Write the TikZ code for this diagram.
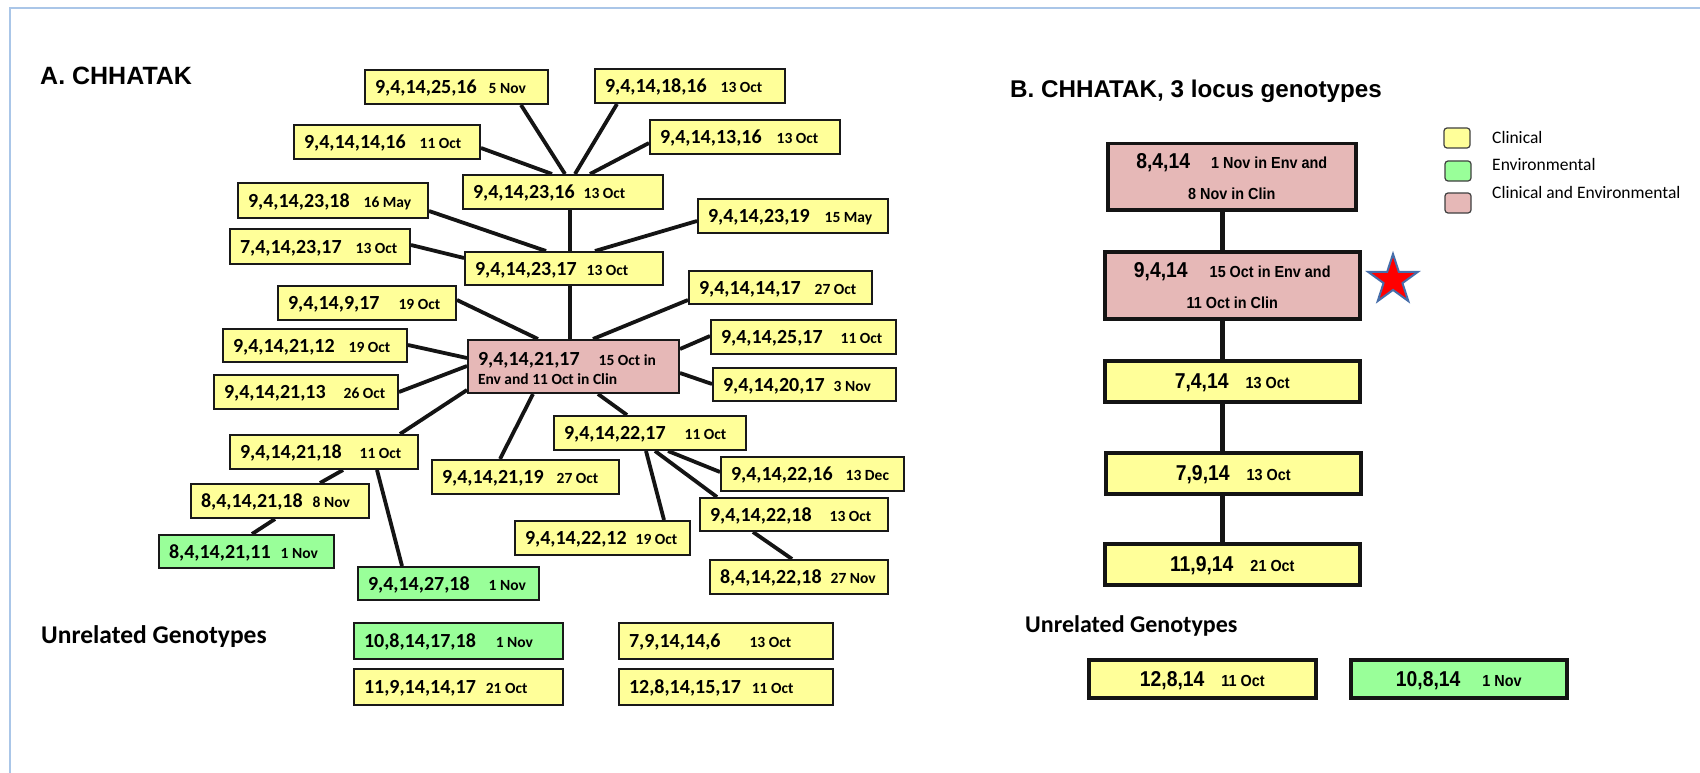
\documentclass[tikz,border=0pt]{standalone}
\usepackage{fontspec}
\setmainfont{Carlito}
\newfontfamily\carl{Carlito}
\newfontfamily\ars{Liberation Sans}
\newfontfamily\arn[FakeStretch=0.9]{Liberation Sans}
\usetikzlibrary{shapes.geometric,backgrounds}
\definecolor{cYel}{RGB}{255,255,153}
\definecolor{cGrn}{RGB}{153,255,153}
\definecolor{cPnk}{RGB}{230,184,183}
\definecolor{cBord}{RGB}{25,25,25}
\definecolor{cFrame}{RGB}{170,198,232}
\definecolor{cStar}{RGB}{70,110,170}
\newcommand{\gfont}{\fontsize{20}{24}\selectfont}
\newcommand{\dfont}{\fontsize{15.5}{19}\selectfont}
\newcommand{\bgf}{\fontsize{21.5}{31}\selectfont}
\newcommand{\bdf}{\fontsize{16}{31}\selectfont}
% A-panel genotype box: name, x1, y1, x2, y2, fill style, genotype, gap, date
\newcommand{\gbx}[9]{%
 \pgfmathsetmacro{\gbw}{#4-#2}%
 \pgfmathsetmacro{\gbh}{#5-#3}%
 \pgfmathsetmacro{\gbt}{#4-#2-20}%
 \node[gbox,#6,anchor=north west,minimum width=\gbw pt,minimum height=\gbh pt] (#1) at (#2,#3)
 {\raisebox{0pt}[\height][0pt]{\makebox[\gbt pt][l]{{\gfont #7}\hspace{#8pt}{\dfont #9}}}};%
}
% B-panel box: name, x1, y1, x2, y2, fill style, content
\newcommand{\bbx}[7]{%
 \pgfmathsetmacro{\gbw}{#4-#2}%
 \pgfmathsetmacro{\gbh}{#5-#3}%
 \node[bbox,#6,anchor=north west,minimum width=\gbw pt,minimum height=\gbh pt] (#1) at (#2,#3) {#7};%
}
\begin{document}
\begin{tikzpicture}[x=1pt,y=-1pt,
 fY/.style={fill=cYel}, fG/.style={fill=cGrn}, fP/.style={fill=cPnk},
 gbox/.style={draw=cBord, line width=2pt, rectangle, inner xsep=10pt, inner ysep=0pt, font=\carl\bfseries},
 link/.style={line width=3.8pt, draw=black!92},
 bbox/.style={draw=black!92, line width=3.5pt, rectangle, inner sep=0pt, font=\arn\bfseries\bdf, align=center},
 blink/.style={line width=5pt, draw=black!92},
 legsq/.style={draw=black!75, line width=1.2pt, rounded corners=3pt, minimum width=26pt, minimum height=20pt, inner sep=0pt},
 legtxt/.style={anchor=base west, inner sep=0pt, font=\carl\fontsize{17.5}{21}\selectfont},
 title/.style={anchor=base west, inner sep=0pt, font=\ars\bfseries},
 sub/.style={anchor=base west, inner sep=0pt, font=\carl\bfseries}]
\useasboundingbox (0,0) rectangle (1700,773);

% ---------- titles ----------
\node[title, font=\ars\bfseries\fontsize{25}{30}\selectfont] (titleA) at (40,85) {A. CHHATAK};
\node[title, font=\ars\bfseries\fontsize{24.2}{29}\selectfont] (titleB) at (1010,98) {B. CHHATAK, 3 locus genotypes};
\node[sub, font=\carl\bfseries\fontsize{25.5}{30}\selectfont] (unrelA) at (41,643) {Unrelated Genotypes};
\node[sub, font=\carl\bfseries\fontsize{24}{29}\selectfont] (unrelB) at (1025,632) {Unrelated Genotypes};

% ---------- panel A boxes ----------
\gbx{n2516}{364}{69}{547}{103}{fY}{9,4,14,25,16}{12}{5 Nov}
\gbx{n1816}{594}{68}{784}{102}{fY}{9,4,14,18,16}{14}{13 Oct}
\gbx{n1416}{293}{124}{479}{158}{fY}{9,4,14,14,16}{14}{11 Oct}
\gbx{n1316}{649}{119}{839}{153}{fY}{9,4,14,13,16}{15}{13 Oct}
\gbx{n2316}{462}{174}{662}{208}{fY}{9,4,14,23,16}{9}{13 Oct}
\gbx{n2318}{237}{182}{427}{217}{fY}{9,4,14,23,18}{14}{16 May}
\gbx{n2319}{697}{198}{887}{232}{fY}{9,4,14,23,19}{15}{15 May}
\gbx{n742317}{229}{228}{409}{263}{fY}{7,4,14,23,17}{14}{13 Oct}
\gbx{n2317}{464}{251}{662}{284}{fY}{9,4,14,23,17}{10}{13 Oct}
\gbx{n917}{277}{285}{455}{319}{fY}{9,4,14,9,17}{19}{19 Oct}
\gbx{n1417}{688}{270}{871}{303}{fY}{9,4,14,14,17}{14}{27 Oct}
\gbx{n2112}{222}{328}{406}{361}{fY}{9,4,14,21,12}{14}{19 Oct}
\gbx{n2517}{710}{319}{895}{353}{fY}{9,4,14,25,17}{18}{11 Oct}
\gbx{n2113}{213}{374}{397}{408}{fY}{9,4,14,21,13}{18}{26 Oct}
\gbx{n2017}{712}{367}{895}{400}{fY}{9,4,14,20,17}{9}{3 Nov}
\node[gbox, fP, anchor=north west, minimum width=211pt, minimum height=53pt, text width=191pt, align=left, font=\carl\bfseries\dfont] (c) at (467,339)
 {\spaceskip=0pt\xspaceskip=0pt\relax\rule{0pt}{17pt}{\gfont 9,4,14,21,17}\hspace{19pt}15 Oct in\\Env and 11 Oct in Clin};
\gbx{n2217}{553}{415}{745}{449}{fY}{9,4,14,22,17}{19}{11 Oct}
\gbx{n2118}{229}{434}{417}{468}{fY}{9,4,14,21,18}{18}{11 Oct}
\gbx{n2119}{431}{459}{618}{493}{fY}{9,4,14,21,19}{13}{27 Oct}
\gbx{n2216}{720}{456}{903}{490}{fY}{9,4,14,22,16}{13}{13 Dec}
\gbx{n842118}{190}{483}{368}{517}{fY}{8,4,14,21,18}{10}{8 Nov}
\gbx{n2218}{699}{497}{887}{530}{fY}{9,4,14,22,18}{18}{13 Oct}
\gbx{n2212}{514}{520}{689}{554}{fY}{9,4,14,22,12}{9}{19 Oct}
\gbx{n842111}{158}{534}{333}{567}{fG}{8,4,14,21,11}{10}{1 Nov}
\gbx{n842218}{709}{559}{887}{593}{fY}{8,4,14,22,18}{9}{27 Nov}
\gbx{n2718}{357}{566}{538}{599}{fG}{9,4,14,27,18}{19}{1 Nov}
% unrelated (A)
\gbx{u1}{353}{622}{562}{658}{fG}{10,8,14,17,18}{20}{1 Nov}
\gbx{u2}{618}{622}{832}{658}{fY}{7,9,14,14,6}{29}{13 Oct}
\gbx{u3}{353}{668}{562}{704}{fY}{11,9,14,14,17}{10}{21 Oct}
\gbx{u4}{618}{668}{832}{704}{fY}{12,8,14,15,17}{11}{11 Oct}

% ---------- panel B boxes ----------
\bbx{b1}{1106}{142}{1354}{208}{fP}{{\bgf 8,4,14}\hspace{21pt}1 Nov in Env and\\8 Nov in Clin}
\bbx{b2}{1103}{250}{1358}{317}{fP}{{\bgf 9,4,14}\hspace{22pt}15 Oct in Env and\\11 Oct in Clin}
\bbx{b3}{1103}{359}{1358}{400}{fY}{\raisebox{0pt}[\height][0pt]{{\bgf 7,4,14}\hspace{17pt}13 Oct}}
\bbx{b4}{1104}{451}{1359}{492}{fY}{\raisebox{0pt}[\height][0pt]{{\bgf 7,9,14}\hspace{17pt}13 Oct}}
\bbx{b5}{1103}{542}{1358}{583}{fY}{\raisebox{0pt}[\height][0pt]{{\bgf 11,9,14}\hspace{17pt}21 Oct}}
\bbx{b6}{1087}{658}{1314}{696}{fY}{\raisebox{0pt}[\height][0pt]{{\bgf 12,8,14}\hspace{17pt}11 Oct}}
\bbx{b7}{1349}{658}{1565}{696}{fG}{\raisebox{0pt}[\height][0pt]{{\bgf 10,8,14}\hspace{22pt}1 Nov}}

\node[star, star points=5, star point ratio=2.618, minimum size=52pt, fill=red, draw=cStar, line width=2pt, inner sep=0pt] (star) at (1393,280) {};

% ---------- legend ----------
\node[legsq, fill=cYel] (lg1) at (1457,138) {};
\node[legsq, fill=cGrn] (lg2) at (1458,171) {};
\node[legsq, fill=cPnk] (lg3) at (1458,203) {};
\node[legtxt] (lt1) at (1492,143) {Clinical};
\node[legtxt] (lt2) at (1492,171) {Environmental};
\node[legtxt] (lt3) at (1492,198) {Clinical and Environmental};

% ---------- frame ----------
\draw[cFrame, line width=1.5pt] (10,773) -- (10,8) -- (1700,8);

% ---------- connectors ----------
\begin{scope}[on background layer]
\fill[white] (0,0) rectangle (1700,773);
\draw[link] ([xshift=157pt]n2516.south west) -- ([xshift=103pt]n2316.north west);
\draw[link] ([xshift=23pt]n1816.south west) -- ([xshift=113pt]n2316.north west);
\draw[link] ([yshift=-24pt]n1316.north west) -- ([xshift=128pt]n2316.north west);
\draw[link] ([yshift=-24pt]n1416.north east) -- ([xshift=90pt]n2316.north west);
\draw[link] ([xshift=108pt]n2316.south west) -- ([xshift=106pt]n2317.north west);
\draw[link] ([yshift=-29pt]n2318.north east) -- ([xshift=82pt]n2317.north west);
\draw[link] ([yshift=-17pt]n742317.north east) -- ([yshift=-7pt]n2317.north west);
\draw[link] ([yshift=-23pt]n2319.north west) -- ([xshift=131pt]n2317.north west);
\draw[link] ([xshift=106pt]n2317.south west) -- ([xshift=103pt]c.north west);
\draw[link] ([yshift=-15pt]n917.north east) -- ([xshift=71pt]c.north west);
\draw[link] ([yshift=-17pt]n2112.north east) -- ([yshift=-19pt]c.north west);
\draw[link] ([yshift=-18pt]n2113.north east) -- ([yshift=-27pt]c.north west);
\draw[link] ([xshift=171pt]n2118.north west) -- ([yshift=-51pt]c.north west);
\draw[link] ([xshift=66pt]c.south west) -- ([xshift=69pt]n2119.north west);
\draw[link] ([xshift=131pt]c.south west) -- ([xshift=74pt]n2217.north west);
\draw[link] ([yshift=-30pt]n1417.north west) -- ([xshift=126pt]c.north west);
\draw[link] ([yshift=-17pt]n2517.north west) -- ([yshift=-10pt]c.north east);
\draw[link] ([yshift=-17pt]n2017.north west) -- ([yshift=-34pt]c.north east);
\draw[link] ([xshift=115pt]n2217.south west) -- ([yshift=-16pt]n2216.north west);
\draw[link] ([xshift=102pt]n2217.south west) -- ([xshift=18pt]n2218.north west);
\draw[link] ([xshift=93pt]n2217.south west) -- ([xshift=150pt]n2212.north west);
\draw[link] ([xshift=54pt]n2218.south west) -- ([xshift=83pt]n842218.north west);
\draw[link] ([xshift=114pt]n2118.south west) -- ([xshift=130pt]n842118.north west);
\draw[link] ([xshift=85pt]n842118.south west) -- ([xshift=94pt]n842111.north west);
\draw[link] ([xshift=148pt]n2118.south west) -- ([xshift=45pt]n2718.north west);
% panel B
\draw[blink] ([xshift=116pt]b1.south west) -- ([xshift=119pt]b2.north west);
\draw[blink] ([xshift=119pt]b2.south west) -- ([xshift=119pt]b3.north west);
\draw[blink] ([xshift=119pt]b3.south west) -- ([xshift=118pt]b4.north west);
\draw[blink] ([xshift=118pt]b4.south west) -- ([xshift=119pt]b5.north west);
\end{scope}
\end{tikzpicture}
\end{document}
